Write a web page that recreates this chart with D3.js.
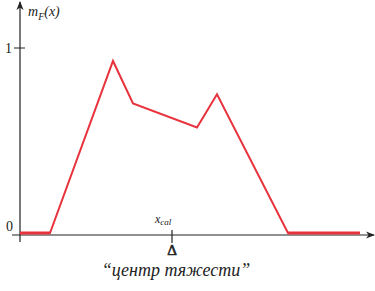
<!DOCTYPE html>
<html>
<head>
<meta charset="utf-8">
<script src="https://cdn.jsdelivr.net/npm/d3@7"></script>
<style>
body { margin: 0; background: #fff; }
text { font-family: "Liberation Serif", "DejaVu Serif", serif; fill: #222; }
</style>
</head>
<body>
<div id="chart"></div>
<script>
// membership function points
var xs = [0, 3, 9.3, 11.3, 17.7, 19.7, 26.8, 34];
var mu = [0, 0, 0.93, 0.70, 0.57, 0.75, 0, 0];
var yTicks = [0, 1];
var xCal = 15.2;

var width = 375, height = 291;

var svg = d3.select("#chart").append("svg")
	.attr("width", width)
	.attr("height", height);

var x = d3.scaleLinear().domain([0, 35]).range([20, 370]);
var y = d3.scaleLinear().domain([0, 1]).range([233, 48]);

var data = xs.map(function(d, i) { return {x: d, y: mu[i]}; });

var axisY = 235;

// arrow marker
svg.append("defs").append("marker")
	.attr("id", "arr")
	.attr("viewBox", "0 0 10 10")
	.attr("refX", 9).attr("refY", 5)
	.attr("markerWidth", 9).attr("markerHeight", 9)
	.attr("markerUnits", "userSpaceOnUse")
	.attr("orient", "auto")
	.append("path")
	.attr("d", "M0,1 L10,5 L0,9 L3,5 Z")
	.attr("fill", "#222");

// x axis
svg.append("line")
	.attr("x1", 12).attr("y1", axisY)
	.attr("x2", 374).attr("y2", axisY)
	.attr("stroke", "#222").attr("stroke-width", 1.2)
	.attr("marker-end", "url(#arr)");

// y axis
svg.append("line")
	.attr("x1", 20).attr("y1", 242)
	.attr("x2", 20).attr("y2", 2)
	.attr("stroke", "#222").attr("stroke-width", 1.2)
	.attr("marker-end", "url(#arr)");

// tick 1
svg.append("line")
	.attr("x1", 14).attr("x2", 25)
	.attr("y1", y(1)).attr("y2", y(1))
	.attr("stroke", "#222").attr("stroke-width", 1);

svg.selectAll(".ylab")
	.data(yTicks)
	.enter().append("text")
	.attr("class", "ylab")
	.attr("x", function(d) { return d === 0 ? 6 : 5; })
	.attr("y", function(d) { return d === 0 ? 231 : y(d) + 5; })
	.attr("font-size", 14)
	.text(function(d) { return d; });

// y label m_F(x)
var lab = svg.append("text")
	.attr("x", 28).attr("y", 16)
	.attr("font-size", 14)
	.attr("font-style", "italic");
lab.append("tspan").text("m");
lab.append("tspan").attr("dy", 4).attr("font-size", 10).text("F");
lab.append("tspan").attr("dy", -4).text("(x)");

// membership curve
var line = d3.line()
	.x(function(d) { return x(d.x); })
	.y(function(d) { return y(d.y); });

svg.append("path")
	.datum(data)
	.attr("d", line)
	.attr("fill", "none")
	.attr("stroke", "#e8333d")
	.attr("stroke-width", 2)
	.attr("stroke-linejoin", "miter");

// thicker flat parts
[[data[0], data[1]], [data[6], data[7]]].forEach(function(seg) {
	svg.append("path")
		.datum(seg)
		.attr("d", line)
		.attr("stroke", "#e8333d")
		.attr("stroke-width", 3);
});

// centre of gravity marker
var cx = x(xCal);
svg.append("line")
	.attr("x1", cx).attr("x2", cx)
	.attr("y1", 230).attr("y2", 243)
	.attr("stroke", "#222").attr("stroke-width", 1.2);

svg.append("text")
	.attr("x", cx).attr("y", 255)
	.attr("text-anchor", "middle")
	.attr("font-size", 15)
	.attr("font-family", "DejaVu Sans")
	.attr("stroke", "#222").attr("stroke-width", 0.6)
	.text("Δ");

var xc = svg.append("text")
	.attr("x", cx - 17).attr("y", 223)
	.attr("font-size", 12)
	.attr("font-style", "italic");
xc.append("tspan").text("x");
xc.append("tspan").attr("dy", 2).attr("font-size", 9).text("cal");

svg.append("text")
	.attr("x", 176).attr("y", 276)
	.attr("text-anchor", "middle")
	.attr("font-size", 18)
	.attr("font-style", "italic")
	.text("“центр тяжести”");
</script>
</body>
</html>
